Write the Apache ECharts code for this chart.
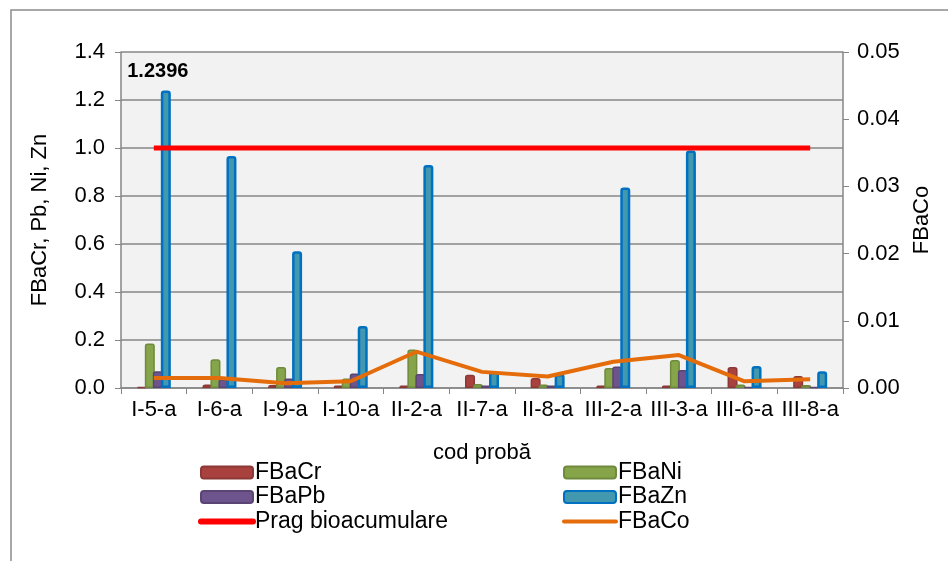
<!DOCTYPE html>
<html><head><meta charset="utf-8">
<script src="https://cdn.jsdelivr.net/npm/echarts@6/dist/echarts.min.js"></script>
<style>html,body{margin:0;padding:0;background:#fff}#c{width:948px;height:561px}</style>
</head><body><div id="c"></div>
<script>
const categories = ['I-5-a','I-6-a','I-9-a','I-10-a','II-2-a','II-7-a','II-8-a','III-2-a','III-3-a','III-6-a','III-8-a'];
const FBaCr = [0.005,0.015,0.012,0.01,0.01,0.055,0.042,0.01,0.01,0.088,0.05];
const FBaNi = [0.185,0.12,0.088,0.04,0.16,0.017,0.015,0.083,0.117,0.015,0.012];
const FBaPb = [0.07,0.035,0.04,0.06,0.058,0.01,0.01,0.09,0.075,0.005,0.005];
const FBaZn = [1.2396,0.967,0.57,0.258,0.929,0.068,0.058,0.835,0.99,0.092,0.07];
const prag = [1,1,1,1,1,1,1,1,1,1,1];
const FBaCo = [0.0015,0.0015,0.0007,0.001,0.0054,0.0024,0.0017,0.0039,0.0049,0.001,0.0013];
const leftTicks = [0,0.2,0.4,0.6,0.8,1.0,1.2,1.4];
const rightTicks = [0,0.01,0.02,0.03,0.04,0.05];

const FONT = 'Liberation Sans, Arial, sans-serif';
const FS = 22;
const chart = echarts.init(document.getElementById('c'), null, {renderer:'canvas'});
function barSeries(name, data, fill, border, bw){
  return {name, type:'bar', data, yAxisIndex:0, barWidth:10, barGap:'-20%',
    itemStyle:{color:fill, borderColor:border, borderWidth:bw, borderRadius:[2,2,0,0]}};
}
const zn = barSeries('FBaZn', FBaZn.map((v,i)=> i===0 ? {value:v, label:{show:true, position:'top', offset:[-8,-4], formatter:String(v), fontFamily:FONT, fontSize:20, fontWeight:'bold', color:'#000'}} : v), '#4198af', '#0070c0', 2.5);
const legendText = {fontFamily:FONT, fontSize:23, color:'#000', lineHeight:22, padding:[0,0,0,-3]};
chart.setOption({
  animation:false,
  textStyle:{fontFamily:FONT},
  grid:{left:121, right:105, top:52, bottom:173, show:true, backgroundColor:'#f2f2f2', borderWidth:0, containLabel:false},
  graphic:[{type:'rect', shape:{x:11, y:10, width:1000, height:700}, style:{fill:'none', stroke:'#8c8c8c', lineWidth:1.5}, silent:true}],
  legend:[
    {data:['FBaCr','FBaPb',{name:'Prag bioacumulare', itemStyle:{opacity:0}, lineStyle:{width:6, color:'#ff0000', cap:'round'}}], orient:'vertical', left:198, top:461, padding:0, itemWidth:52, itemHeight:12, itemGap:1.5,
     textStyle:legendText},
    {data:['FBaNi','FBaZn',{name:'FBaCo', itemStyle:{opacity:0}, lineStyle:{width:4, color:'#e46c0a', cap:'round'}}], orient:'vertical', left:562, top:461, padding:0, itemWidth:52, itemHeight:12, itemGap:1.5,
     textStyle:legendText}
  ],
  xAxis:{type:'category', data:categories, boundaryGap:true,
    name:'cod probă', nameLocation:'middle', nameGap:54, nameTextStyle:{fontFamily:FONT, fontSize:FS, color:'#000'},
    axisLine:{lineStyle:{color:'#868686', width:1.5}},
    axisTick:{show:true, length:6, interval:0, lineStyle:{color:'#868686'}},
    axisLabel:{interval:0, margin:11, fontFamily:FONT, fontSize:FS, color:'#000'}},
  yAxis:[
    {type:'value', min:leftTicks[0], max:leftTicks[leftTicks.length-1], interval:0.2, position:'left',
     name:'FBaCr, Pb, Ni, Zn', nameLocation:'middle', nameGap:70, nameTextStyle:{fontFamily:FONT, fontSize:FS, color:'#000'},
     axisLine:{show:true, lineStyle:{color:'#868686', width:1.5}},
     axisTick:{show:true, length:6, lineStyle:{color:'#868686'}},
     axisLabel:{margin:16, fontFamily:FONT, fontSize:FS, color:'#000', formatter:v=>v.toFixed(1)},
     splitLine:{show:true, lineStyle:{color:'#868686', width:1.5}}},
    {type:'value', min:rightTicks[0], max:rightTicks[rightTicks.length-1], interval:0.01, position:'right',
     name:'FBaCo', nameLocation:'middle', nameGap:64, nameRotate:90, nameTextStyle:{fontFamily:FONT, fontSize:FS, color:'#000'},
     axisLine:{show:true, lineStyle:{color:'#868686', width:1.5}},
     axisTick:{show:true, length:6, lineStyle:{color:'#868686'}},
     axisLabel:{margin:14, fontFamily:FONT, fontSize:FS, color:'#000', formatter:v=>v.toFixed(2)},
     splitLine:{show:false}}
  ],
  series:[
    barSeries('FBaCr', FBaCr, '#a9423f', '#8c3836', 1.5),
    barSeries('FBaNi', FBaNi, '#86a44a', '#6f8a3c', 1.5),
    barSeries('FBaPb', FBaPb, '#6e548d', '#5a4474', 1.5),
    zn,
    {name:'Prag bioacumulare', type:'line', data:prag, yAxisIndex:0, symbol:'none', lineStyle:{color:'#ff0000', width:5}, itemStyle:{color:'#ff0000'}, z:5},
    {name:'FBaCo', type:'line', data:FBaCo, yAxisIndex:1, symbol:'none', lineStyle:{color:'#e46c0a', width:4}, itemStyle:{color:'#e46c0a'}, z:6}
  ]
});
</script></body></html>
